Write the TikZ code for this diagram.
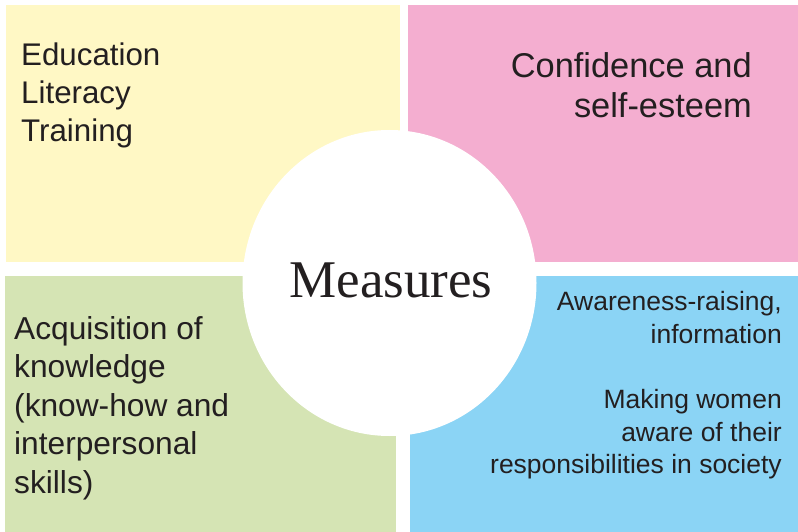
\documentclass[tikz,border=0pt]{standalone}
\usepackage{fontspec}
\usetikzlibrary{shapes.geometric}
\setmainfont{Liberation Sans}
\newfontfamily\measfont{Liberation Serif}
\definecolor{qyellow}{RGB}{255,248,197}
\definecolor{qpink}{RGB}{244,174,208}
\definecolor{qgreen}{RGB}{213,228,180}
\definecolor{qblue}{RGB}{139,212,245}
\definecolor{qtext}{RGB}{35,31,32}
\tikzset{
  quadtext/.style={inner sep=0pt, text=qtext},
}
\begin{document}
\begin{tikzpicture}[x=1pt,y=-1pt]
\useasboundingbox (0,0) rectangle (798,532);
\fill[qyellow] (6,5) rectangle (400,262);
\fill[qpink] (408,5) rectangle (798,262);
\fill[qgreen] (5,276) rectangle (396,532);
\fill[qblue] (410,276) rectangle (798,532);
\node[ellipse, fill=white, minimum width=294pt, minimum height=306pt, inner sep=0pt] (hub) at (389.5,283) {};
\node[quadtext, anchor=base, font=\measfont\fontsize{53}{62}\selectfont] (meas) at (391,297) {Measures};
\node[quadtext, anchor=north west, align=left, font=\fontsize{31.3}{38}\selectfont] (edu) at (21,43) {Education\\Literacy\\Training};
\node[quadtext, anchor=north east, align=right, font=\fontsize{34.4}{40}\selectfont] (conf) at (752,52) {Confidence and\\self-esteem};
\node[quadtext, anchor=north west, align=left, font=\fontsize{31.7}{38.5}\selectfont] (acq) at (14,316) {Acquisition of\\knowledge\\(know-how and\\interpersonal\\skills)};
\node[quadtext, anchor=north east, align=right, font=\fontsize{26.5}{32.5}\selectfont] (aware) at (782,291.5) {Awareness-raising,\\information\\[33pt]Making women\\aware of their\\responsibilities in society};
\end{tikzpicture}
\end{document}
